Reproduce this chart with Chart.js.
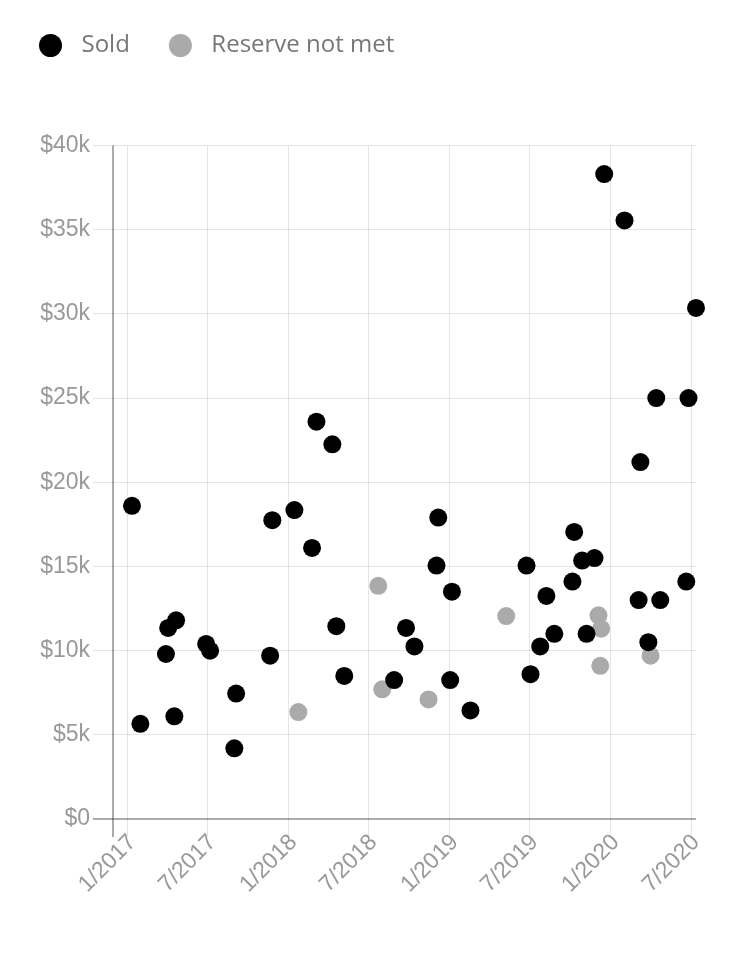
<!DOCTYPE html>
<html>
<head>
<meta charset="utf-8">
<script src="https://cdn.jsdelivr.net/npm/chart.js@4.4.1/dist/chart.umd.min.js"></script>
<style>
  html, body { margin: 0; padding: 0; background: #fff; }
  #wrap { width: 750px; height: 960px; position: relative; }
</style>
</head>
<body>
<div id="wrap"><canvas id="c"></canvas></div>
<script>
// ---- data ----
const soldDates = ['2017-01-11','2017-01-30','2017-03-29','2017-04-03','2017-04-21','2017-04-17','2017-06-28','2017-07-07','2017-09-04','2017-08-31','2017-11-25','2017-11-20','2018-01-14','2018-02-23','2018-03-05','2018-04-10','2018-04-19','2018-05-07','2018-08-28','2018-09-24','2018-10-13','2018-12-06','2018-12-02','2019-01-06','2019-01-02','2019-02-17','2019-06-24','2019-07-03','2019-07-25','2019-08-08','2019-08-26','2019-10-10','2019-10-06','2019-10-28','2019-11-25','2019-11-07','2019-12-17','2020-02-01','2020-03-08','2020-03-04','2020-04-22','2020-04-13','2020-03-26','2020-06-25','2020-06-20','2020-07-12'];
const soldPrices = [18600,5650,9800,11350,11800,6100,10400,10000,7450,4200,17750,9700,18350,16100,23600,22250,11450,8500,8250,11350,10250,17900,15050,13500,8250,6450,15050,8600,10250,13250,11000,17050,14100,15350,15500,11000,38300,35550,21200,13000,13000,25000,10500,25000,14100,30350];
const rnmDates = ['2018-01-23','2018-07-23','2018-08-01','2018-11-14','2019-05-09','2019-12-04','2019-12-10','2019-12-08','2020-03-31'];
const rnmPrices = [6350,13850,7700,7100,12050,12100,11300,9100,9700];
const seriesNames = ['Sold', 'Reserve not met'];
const xTickDates = ['2017-01-01','2017-07-01','2018-01-01','2018-07-01','2019-01-01','2019-07-01','2020-01-01','2020-07-01'];
const xTickLabels = ['1/2017','7/2017','1/2018','7/2018','1/2019','7/2019','1/2020','7/2020'];
const xRange = ['2016-11-29','2020-07-12'];
const yTickValues = [0,5000,10000,15000,20000,25000,30000,35000,40000];
const yTickLabels = ['$0','$5k','$10k','$15k','$20k','$25k','$30k','$35k','$40k'];

// ---- helpers ----
const toMs = s => { const p = s.split('-').map(Number); return Date.UTC(p[0], p[1] - 1, p[2]); };
const pts = (ds, vs) => ds.map((d, i) => ({ x: toMs(d), y: vs[i] }));
const COLORS = ['#000000', '#aaaaaa'];
const TICK_COLOR = '#999999';
const GRID = 'rgba(0,0,0,0.1)';
const AXIS = 'rgba(0,0,0,0.33)';

function makeDot(color, r) {
  const c = document.createElement('canvas');
  const s = Math.ceil(r * 2) + 2;
  c.width = s; c.height = s;
  const g = c.getContext('2d');
  g.fillStyle = color;
  g.beginPath(); g.arc(s / 2, s / 2, r, 0, Math.PI * 2); g.fill();
  return c;
}

const legendSpacer = {
  id: 'legendSpacer',
  beforeLayout(chart) {
    const lg = chart.legend;
    if (lg && !lg._patched) {
      const orig = lg.fit;
      lg.fit = function () { orig.call(this); this.height += 78; };
      lg._patched = true;
    }
  }
};

new Chart(document.getElementById('c'), {
  type: 'scatter',
  data: {
    datasets: [
      { label: seriesNames[0], data: pts(soldDates, soldPrices), backgroundColor: COLORS[0], borderWidth: 0, pointRadius: 9, pointHoverRadius: 9, clip: false },
      { label: seriesNames[1], data: pts(rnmDates, rnmPrices), backgroundColor: COLORS[1], borderWidth: 0, pointRadius: 9, pointHoverRadius: 9, clip: false }
    ]
  },
  options: {
    responsive: true,
    maintainAspectRatio: false,
    animation: false,
    layout: { padding: { top: 2, left: 0, right: 54, bottom: 0 } },
    plugins: {
      tooltip: { enabled: false },
      legend: {
        position: 'top',
        align: 'start',
        labels: {
          usePointStyle: true,
          pointStyleWidth: 38,
          padding: 31.5,
          color: '#777777',
          font: { family: "'Open Sans', 'Noto Sans', sans-serif", size: 24 },
          generateLabels: chart => chart.data.datasets.map((ds, i) => ({
            text: ds.label,
            fillStyle: ds.backgroundColor,
            strokeStyle: ds.backgroundColor,
            lineWidth: 0,
            pointStyle: makeDot(ds.backgroundColor, 11.5),
            hidden: !chart.isDatasetVisible(i),
            datasetIndex: i,
            fontColor: '#777777'
          }))
        }
      }
    },
    scales: {
      x: {
        type: 'linear',
        min: toMs(xRange[0]),
        max: toMs(xRange[1]),
        border: { display: false },
        grid: {
          color: c => c.index === 0 ? AXIS : GRID,
          lineWidth: c => c.index === 0 ? 2 : 1,
          tickLength: 18
        },
        afterBuildTicks: scale => {
          scale.ticks = [{ value: toMs(xRange[0]) }].concat(xTickDates.map(d => ({ value: toMs(d) })));
        },
        afterFit: scale => { scale.height = 141; },
        ticks: {
          autoSkip: false,
          minRotation: 45,
          maxRotation: 45,
          padding: -8,
          labelOffset: 5,
          color: TICK_COLOR,
          font: { family: "'Liberation Sans', Arial, sans-serif", size: 23 },
          callback: (v, i) => i === 0 ? '' : xTickLabels[i - 1]
        }
      },
      y: {
        type: 'linear',
        min: yTickValues[0],
        max: yTickValues[yTickValues.length - 1],
        border: { display: false },
        grid: {
          color: c => c.index === 0 ? AXIS : GRID,
          lineWidth: c => c.index === 0 ? 2 : 1,
          tickLength: 20
        },
        afterBuildTicks: scale => { scale.ticks = yTickValues.map(v => ({ value: v })); },
        afterFit: scale => { scale.width = 113; },
        ticks: {
          padding: 3,
          color: TICK_COLOR,
          font: { family: "'Liberation Sans', Arial, sans-serif", size: 23 },
          callback: (v, i) => yTickLabels[i]
        }
      }
    }
  },
  plugins: [legendSpacer]
});
</script>
</body>
</html>
